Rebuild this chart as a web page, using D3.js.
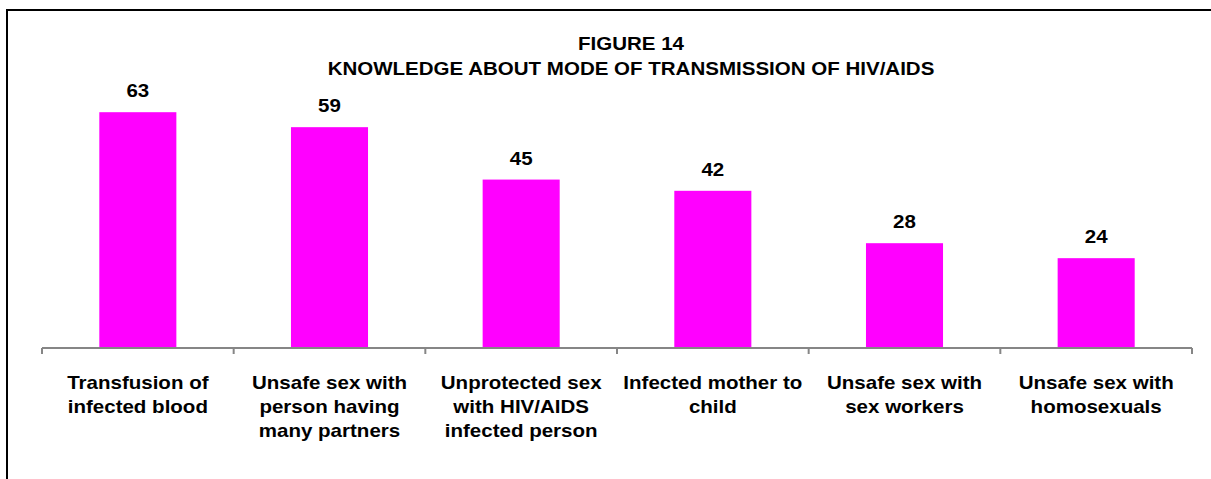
<!DOCTYPE html>
<html>
<head>
<meta charset="utf-8">
<script src="https://cdn.jsdelivr.net/npm/d3@7"></script>
<style>
  html, body { margin: 0; padding: 0; background: #fff; }
  svg { display: block; }
  text { font-family: "Liberation Sans", Arial, Helvetica, sans-serif; font-weight: bold; fill: #000; }
</style>
</head>
<body>
<svg id="chart" width="1211" height="479"></svg>
<script>
// Categories (each split into its display lines)
const categories = [
  "Transfusion of infected blood",
  "Unsafe sex with person having many partners",
  "Unprotected sex with HIV/AIDS infected person",
  "Infected mother to child",
  "Unsafe sex with sex workers",
  "Unsafe sex with homosexuals"
];
const categoryLines = [
  ["Transfusion of", "infected blood"],
  ["Unsafe sex with", "person having", "many partners"],
  ["Unprotected sex", "with HIV/AIDS", "infected person"],
  ["Infected mother to", "child"],
  ["Unsafe sex with", "sex workers"],
  ["Unsafe sex with", "homosexuals"]
];
// Percentage of respondents
const values = [63, 59, 45, 42, 28, 24];
const titleLines = ["FIGURE 14", "KNOWLEDGE ABOUT MODE OF TRANSMISSION OF HIV/AIDS"];

const svg = d3.select("#chart");
const SX = 1.14;          // horizontal stretch of the lettering
const FONT = 18;

// Frame around the chart area
svg.append("rect")
  .attr("x", 7).attr("y", 10)
  .attr("width", 1400).attr("height", 700)
  .attr("fill", "none")
  .attr("stroke", "#000")
  .attr("stroke-width", 2);

const axisLeft = 42, axisRight = 1192, baseY = 348;

const x = d3.scaleBand()
  .domain(categories)
  .range([axisLeft, axisRight])
  .paddingInner(0.598)
  .paddingOuter(0.299);

const y = d3.scaleLinear()
  .domain([0, 70])
  .range([baseY, 86]);

function stretchedText(sel, px, py) {
  return sel.attr("transform", `translate(${px},${py}) scale(${SX},1)`);
}

// Title
const titleX = 631;
titleLines.forEach((t, i) => {
  svg.append("text")
    .attr("text-anchor", "middle")
    .style("font-size", FONT + "px")
    .call(stretchedText, titleX, 50 + i * 25)
    .text(t);
});

// Bars
svg.append("g")
  .selectAll("rect")
  .data(values)
  .join("rect")
  .attr("x", (d, i) => x(categories[i]))
  .attr("y", d => y(d))
  .attr("width", x.bandwidth())
  .attr("height", d => y(0) - y(d))
  .attr("fill", "#FF00FF");

// Value labels
svg.append("g")
  .selectAll("text")
  .data(values)
  .join("text")
  .attr("text-anchor", "middle")
  .style("font-size", FONT + "px")
  .each(function (d, i) {
    d3.select(this).call(stretchedText, x(categories[i]) + x.bandwidth() / 2, y(d) - 15);
  })
  .text(d => d);

// Category axis: baseline with ticks at the band boundaries
const axisG = svg.append("g").attr("stroke", "#868686").attr("stroke-width", 2);
axisG.append("line")
  .attr("x1", axisLeft).attr("x2", axisRight)
  .attr("y1", baseY).attr("y2", baseY);
const tickXs = categories.map((c, i) => axisLeft + i * x.step()).concat([axisRight]);
axisG.selectAll("line.tick")
  .data(tickXs)
  .join("line")
  .attr("class", "tick")
  .attr("x1", d => d).attr("x2", d => d)
  .attr("y1", baseY).attr("y2", baseY + 6);

// Category labels
const labG = svg.append("g");
categoryLines.forEach((lines, i) => {
  const cx = x(categories[i]) + x.bandwidth() / 2;
  lines.forEach((ln, j) => {
    labG.append("text")
      .attr("text-anchor", "middle")
      .style("font-size", FONT + "px")
      .call(stretchedText, cx, 389 + j * 24)
      .text(ln);
  });
});
</script>
</body>
</html>
